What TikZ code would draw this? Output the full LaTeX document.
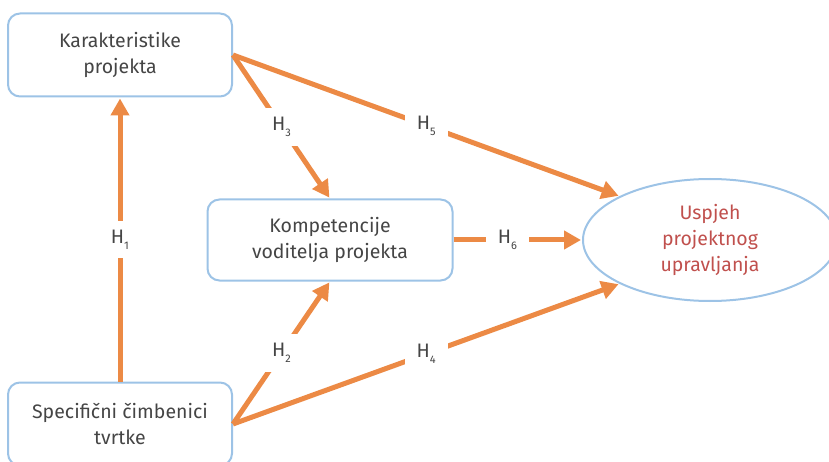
\documentclass[tikz,border=0pt]{standalone}
\usepackage{fontspec}
\setmainfont{Fira Sans}
\usetikzlibrary{arrows.meta,shapes.geometric}

\definecolor{hyporange}{HTML}{EC8A45}
\definecolor{boxblue}{HTML}{9DC3E6}
\definecolor{txtgray}{HTML}{454545}
\definecolor{succred}{HTML}{C0504D}

\newcommand{\hname}[1]{H\raisebox{-0.6ex}{\fontsize{11}{11}\selectfont #1}}

\begin{document}
\begin{tikzpicture}[x=1pt,y=-1pt,
		factor/.style={draw=boxblue, line width=2pt, rounded corners=12pt,
			minimum width=224pt, minimum height=83pt, align=center,
			text=txtgray, font=\fontsize{19.5}{26}\selectfont},
		outcome/.style={ellipse, draw=boxblue, line width=2pt,
			minimum width=254pt, minimum height=122pt, align=center,
			text=succred, font=\fontsize{19.5}{26}\selectfont},
		hyp/.style={draw=hyporange, line width=5pt,
			-{Triangle[length=17pt,width=18pt]}, shorten >=1pt},
		hlabel/.style={fill=white, text=txtgray, inner xsep=12pt, inner ysep=9pt,
			font=\fontsize{19.5}{20}\selectfont}]
	\useasboundingbox (0,0) rectangle (829,462);

	% factors and outcome
	\node[factor] (kar) at (120,55) {Karakteristike\\projekta};
	\node[factor] (spec) at (120,424) {Specifični čimbenici\\tvrtke};
	\node[factor, minimum width=245pt, minimum height=81pt] (komp) at (330,240) {Kompetencije\\voditelja projekta};
	\node[outcome] (usp) at (710,240) {Uspjeh\\projektnog\\upravljanja};

	% hypotheses
	\draw[hyp] (spec.north) -- node[hlabel] {\hname{1}} (kar.south);
	\draw[hyp] (spec.east) -- node[hlabel] {\hname{2}} (komp.south);
	\draw[hyp] (kar.east) -- node[hlabel] {\hname{3}} (komp.north);
	\draw[hyp] (spec.east) -- node[hlabel] {\hname{4}} (usp.south west);
	\draw[hyp] (kar.east) -- node[hlabel] {\hname{5}} (usp.north west);
	\draw[hyp] (komp.east) -- node[hlabel, pos=0.42] {\hname{6}} (usp.west);

\end{tikzpicture}
\end{document}
